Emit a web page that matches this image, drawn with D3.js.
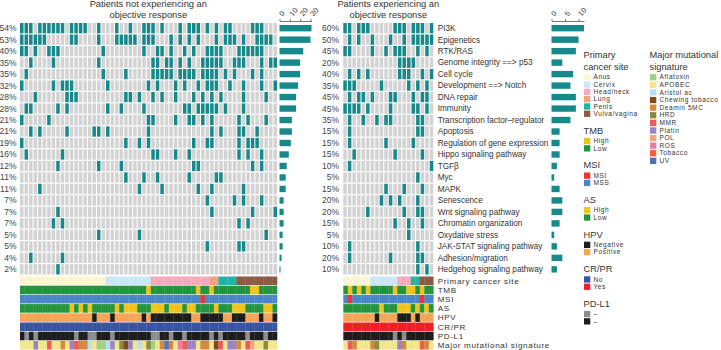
<!DOCTYPE html>
<html>
<head>
<meta charset="utf-8">
<script src="https://cdn.jsdelivr.net/npm/d3@7"></script>
<style>
  body { margin: 0; background: #fff; }
  svg { font-family: "Liberation Sans", Arial, sans-serif; }
</style>
</head>
<body>
<div id="chart"></div>
<script>
// ---- data ----
const pathways = ["PI3K", "Epigenetics", "RTK/RAS", "Genome integrity ==> p53", "Cell cycle",
  "Development ==> Notch", "DNA repair", "Immunity", "Transcription factor\u2013regulator", "Apoptosis",
  "Regulation of gene expression", "Hippo signaling pathway", "TGF\u03b2", "Myc", "MAPK", "Senescence",
  "Wnt signaling pathway", "Chromatin organization", "Oxydative stress", "JAK-STAT signaling pathway",
  "Adhesion/migration", "Hedgehog signaling pathway"];

const pctLeft = [54, 53, 40, 35, 35, 32, 28, 28, 21, 21, 19, 16, 12, 11, 11, 7, 7, 7, 5, 5, 4, 2];
const pctRight = [60, 50, 45, 20, 40, 35, 45, 45, 35, 15, 15, 15, 10, 5, 15, 20, 20, 15, 5, 10, 20, 10];

const nLeft = 57;
const nRight = 20;

// patient columns with an altered pathway, one list per pathway
const hitsLeft = [
  [0,1,2,4,5,6,7,8,9,11,12,13,14,17,21,24,27,28,29,31,35,37,38,39,41,43,45,46,51,52,53],
  [0,1,2,3,4,5,11,12,17,21,22,23,24,25,27,28,29,33,35,37,39,43,45,46,47,49,52,53,54,55],
  [0,1,3,6,7,8,18,27,30,31,33,36,38,41,42,43,44,48,49,50,51,52,53],
  [2,7,17,29,30,32,33,35,37,40,41,42,43,44,47,48,49,53,55,56],
  [1,18,23,29,30,31,32,33,35,36,37,38,40,41,42,43,45,47,51,53],
  [0,7,9,10,11,19,28,30,34,36,39,41,42,43,46,49,53,56],
  [3,10,11,12,23,24,26,29,31,34,38,40,42,44,49,54],
  [1,2,8,10,19,22,27,36,37,39,40,41,42,43,45,49],
  [0,6,28,29,34,37,38,40,42,48,50,54],
  [2,4,10,16,17,19,28,42,44,48,49,52],
  [0,23,26,28,38,41,42,48,50,51,52],
  [1,9,29,30,34,37,48,50,53],
  [8,17,22,38,39,51,53],
  [23,27,30,37,43,44],
  [4,26,31,39,42,49],
  [41,47,49,53],
  [8,42,51,56],
  [7,9,48,50],
  [17,26,54],
  [41,48,49],
  [2,9],
  [8]
];

const hitsRight = [
  [0,1,3,4,5,11,12,13,15,16,17,19],
  [1,3,6,10,13,15,16,17,18,19],
  [0,1,6,9,11,12,13,16,18],
  [12,13,14,15],
  [1,3,5,12,13,14,17,19],
  [0,1,2,8,14,16,18],
  [1,3,4,6,10,11,15,17,18],
  [0,1,2,3,5,10,15,16,18],
  [1,4,7,9,10,16,17],
  [1,16,17],
  [1,9,15],
  [2,11,17],
  [1,19],
  [16],
  [9,13,17],
  [8,10,12,16],
  [5,13,16,17],
  [11,14,17],
  [14],
  [1,16],
  [1,10,16,17],
  [16,18]
];

// annotation tracks
const siteLeft = [["Anus", 19], ["Cervix", 10], ["Head/neck", 13], ["Lung", 2], ["Penis", 4], ["Vulva/vagina", 9]];
const siteRight = [["Anus", 6], ["Cervix", 6], ["Head/neck", 3], ["Penis", 2], ["Vulva/vagina", 3]];
const tmbHighLeft = [28, 39, 42, 51, 52];
const tmbHighRight = [1, 3, 5, 11, 14, 15, 17];
const msiLeft = [40];
const msiRight = [1, 17];
const asHighLeft = [11,13,15,21,23,24,25,29,30,31,33,34,35,37,38,43,47,48,49,54,55];
const asHighRight = [8, 12, 13, 14, 16, 18];
const hpvNegLeft = [16,20,27,29,30,31,32,33,34,35,36,37,40,41,42,43,44,47,48,49,53,56];
const hpvNegRight = [7, 12, 13, 14, 16];
const pdl1GrayLeft = [1,3,12,15,16,20,29,30,33,36,42,44,50,54];
const pdl1GrayRight = [11, 13];
const mutSigLeft = [[3,"Platin"],[6,"MMR"],[9,"Deamin 5MC"],[11,"Platin"],[12,"MMR"],[13,"Deamin 5MC"],[14,"Deamin 5MC"],
  [15,"Aristol ac"],[17,"Aflatoxin"],[18,"Aflatoxin"],[19,"Aristol ac"],[20,"Platin"],[22,"HRD"],[23,"Chewing tobacco"],
  [24,"Platin"],[26,"Aristol ac"],[28,"HRD"],[29,"Aflatoxin"],[31,"Deamin 5MC"],[32,"UV"],[33,"Deamin 5MC"],[35,"ROS"],
  [36,"MMR"],[37,"Platin"],[38,"Platin"],[40,"Deamin 5MC"],[41,"Deamin 5MC"],[43,"Chewing tobacco"],[44,"MMR"],
  [46,"Platin"],[47,"Platin"],[48,"Deamin 5MC"],[50,"MMR"],[51,"POL"],[54,"HRD"]];
const mutSigRight = [[1,"MMR"],[2,"Deamin 5MC"],[6,"Deamin 5MC"],[7,"HRD"],[12,"Platin"],[13,"Deamin 5MC"],[17,"Tobacco"],[18,"Deamin 5MC"]];

const trackNames = ["Primary cancer site", "TMB", "MSI", "AS", "HPV", "CR/PR", "PD-L1", "Major mutational signature"];

const siteCats = ["Anus", "Cervix", "Head/neck", "Lung", "Penis", "Vulva/vagina"];
const mutCats = ["Aflatoxin", "APOBEC", "Aristol ac", "Chewing tobacco", "Deamin 5MC", "HRD", "MMR", "Platin", "POL", "ROS", "Tobacco", "UV"];

// ---- colours ----
const teal = "#17898b";
const cellGray = "#d3d3d3";
const siteColor = { "Anus": "#fcf6cf", "Cervix": "#c9e7f6", "Head/neck": "#f6a9bb", "Lung": "#f59f7c", "Penis": "#22b3a6", "Vulva/vagina": "#8c5a45" };
const levelColor = { "High": "#efc31b", "Low": "#24943f" };
const msiColor = { "MSI": "#ee3431", "MSS": "#4b86c9" };
const hpvColor = { "Negative": "#1d1d1b", "Positive": "#f6a458" };
const crprColor = { "No": "#3853a4", "Yes": "#ec1f25" };
const pdl1Color = { "gray": "#8d8d8d", "black": "#1d1d1b" };
const mutColor = { "Aflatoxin": "#9ed183", "APOBEC": "#f1e68c", "Aristol ac": "#b9e0f1", "Chewing tobacco": "#7e4a20",
  "Deamin 5MC": "#d38a3c", "HRD": "#8b8a45", "MMR": "#ee5a5a", "Platin": "#9a82c4", "POL": "#f6a27b",
  "ROS": "#f07aa0", "Tobacco": "#f0603c", "UV": "#5470b8" };

// ---- helpers ----
const expandRuns = runs => runs.flatMap(([c, k]) => d3.range(k).map(() => c));
const fromIdx = (n, idx, base, alt) => d3.range(n).map(i => idx.includes(i) ? alt : base);
const withPairs = (n, base, pairs) => {
  const a = d3.range(n).map(() => base);
  pairs.forEach(([i, c]) => { a[i] = c; });
  return a;
};

function tracksFor(n, site, tmbH, msi, asH, hpvN, crpr, pdG, mut) {
  return [
    expandRuns(site).map(c => siteColor[c]),
    fromIdx(n, tmbH, "Low", "High").map(c => levelColor[c]),
    fromIdx(n, msi, "MSS", "MSI").map(c => msiColor[c]),
    fromIdx(n, asH, "Low", "High").map(c => levelColor[c]),
    fromIdx(n, hpvN, "Positive", "Negative").map(c => hpvColor[c]),
    d3.range(n).map(() => crprColor[crpr]),
    fromIdx(n, pdG, "black", "gray").map(c => pdl1Color[c]),
    withPairs(n, "APOBEC", mut).map(c => mutColor[c])
  ];
}

const tracksLeft = tracksFor(nLeft, siteLeft, tmbHighLeft, msiLeft, asHighLeft, hpvNegLeft, "No", pdl1GrayLeft, mutSigLeft);
const tracksRight = tracksFor(nRight, siteRight, tmbHighRight, msiRight, asHighRight, hpvNegRight, "Yes", pdl1GrayRight, mutSigRight);

// ---- svg ----
const width = 721, height = 350;
const svg = d3.select("#chart").append("svg")
  .attr("width", width)
  .attr("height", height);

const y = d3.scaleBand().domain(pathways).range([23, 274.5]).paddingInner(0.1);
const yAnn = d3.scaleBand().domain(trackNames).range([276.5, 349.5]).paddingInner(0.07);

function drawPanel(opts) {
  const x = d3.scaleBand().domain(d3.range(opts.n)).range(opts.xRange).paddingInner(0.22);
  const xa = d3.scaleBand().domain(d3.range(opts.n)).range(opts.xRange);
  const g = svg.append("g");

  // background cells, teal where the pathway is altered
  pathways.forEach((p, r) => {
    g.append("g").selectAll("rect")
      .data(d3.range(opts.n))
      .join("rect")
      .attr("x", i => x(i))
      .attr("y", y(p))
      .attr("width", x.bandwidth())
      .attr("height", y.bandwidth())
      .attr("fill", i => opts.hits[r].includes(i) ? teal : cellGray);
  });

  // percentages
  g.selectAll(".pct")
    .data(pathways)
    .join("text")
    .attr("class", "pct")
    .attr("x", opts.pctX)
    .attr("y", d => y(d) + y.bandwidth() / 2)
    .attr("dy", "0.35em")
    .attr("text-anchor", "end")
    .attr("font-size", "8.5px")
    .attr("fill", "#444")
    .text((d, i) => opts.pct[i] + "%");

  // annotation tracks
  trackNames.forEach((t, k) => {
    g.append("g").selectAll("rect")
      .data(opts.tracks[k])
      .join("rect")
      .attr("x", (c, i) => xa(i))
      .attr("y", yAnn(t))
      .attr("width", xa.bandwidth() + 0.3)
      .attr("height", yAnn.bandwidth())
      .attr("fill", c => c);
  });

  // title
  const cx = (opts.xRange[0] + opts.xRange[1]) / 2 + opts.titleShift;
  g.append("text")
    .attr("x", cx).attr("y", 7.4)
    .attr("text-anchor", "middle")
    .attr("font-size", "9.3px").attr("fill", "#333")
    .selectAll("tspan")
    .data(opts.title)
    .join("tspan")
    .attr("x", cx)
    .attr("dy", (d, i) => i ? 10.4 : 0)
    .text(d => d);

  // bar chart of altered counts
  const counts = opts.hits.map(h => h.length);
  const xb = d3.scaleLinear().domain([0, d3.max(counts)]).range(opts.barRange);
  const barH = y.bandwidth() * 0.62;
  g.selectAll(".bar")
    .data(pathways)
    .join("rect")
    .attr("class", "bar")
    .attr("x", xb(0))
    .attr("y", d => y(d) + (y.bandwidth() - barH) / 2)
    .attr("width", (d, i) => xb(counts[i]) - xb(0))
    .attr("height", barH)
    .attr("fill", teal);

  const ax = g.append("g")
    .attr("transform", "translate(0,21)")
    .call(d3.axisTop(xb).tickValues(opts.ticks).tickSize(2).tickSizeOuter(0));
  ax.select(".domain").attr("stroke", "#555").attr("stroke-width", 0.8);
  ax.selectAll(".tick line").attr("stroke", "#555").attr("stroke-width", 0.8);
  ax.selectAll(".tick text")
    .attr("x", 0).attr("y", 0).attr("dy", "0.35em")
    .attr("transform", "translate(0.5,-6) rotate(-50)")
    .attr("text-anchor", "start")
    .attr("font-size", "7.5px")
    .attr("fill", "#444");
}

drawPanel({
  n: nLeft, xRange: [20, 277], hits: hitsLeft, pct: pctLeft, pctX: 16.5,
  tracks: tracksLeft, title: ["Patients not experiencing an", "objective response"], titleShift: -0.2,
  barRange: [279.5, 311.5], ticks: [0, 10, 20, 30]
});
drawPanel({
  n: nRight, xRange: [343.3, 433.3], hits: hitsRight, pct: pctRight, pctX: 339,
  tracks: tracksRight, title: ["Patients experiencing an", "objective response"], titleShift: 0,
  barRange: [551.5, 584], ticks: [0, 5, 10]
});

// row labels
svg.append("g").selectAll("text")
  .data(pathways)
  .join("text")
  .attr("x", 437.7)
  .attr("y", d => y(d) + y.bandwidth() / 2)
  .attr("dy", "0.35em")
  .attr("font-size", "8.2px")
  .attr("fill", "#333")
  .text(d => d);

svg.append("g").selectAll("text")
  .data(trackNames)
  .join("text")
  .attr("x", 437.7)
  .attr("y", d => yAnn(d) + yAnn.bandwidth() / 2)
  .attr("dy", "0.35em")
  .attr("font-size", "8.1px")
  .attr("letter-spacing", "0.65px")
  .attr("fill", "#333")
  .text(d => d);

// ---- legends ----
const legendLeft = [
  { head: ["Primary", "cancer site"], items: siteCats.map(c => [c, siteColor[c]]) },
  { head: ["TMB"], items: [["High", levelColor.High], ["Low", levelColor.Low]] },
  { head: ["MSI"], items: [["MSI", msiColor.MSI], ["MSS", msiColor.MSS]] },
  { head: ["AS"], items: [["High", levelColor.High], ["Low", levelColor.Low]] },
  { head: ["HPV"], items: [["Negative", hpvColor.Negative], ["Positive", hpvColor.Positive]] },
  { head: ["CR/PR"], items: [["No", crprColor.No], ["Yes", crprColor.Yes]] },
  { head: ["PD-L1"], items: [["\u2013", pdl1Color.gray], ["\u2013", pdl1Color.black]] }
];
const legendMut = [
  { head: ["Major mutational", "signature"], items: mutCats.map(c => [c, mutColor[c]]) }
];

function drawLegend(groups, x0, step) {
  const g = svg.append("g");
  let yy = 55;
  groups.forEach(grp => {
    grp.head.forEach((h, i) => {
      g.append("text")
        .attr("x", x0).attr("y", yy + i * 11.7).attr("dy", "0.35em")
        .attr("font-size", "9.3px").attr("fill", "#333")
        .text(h);
    });
    yy += (grp.head.length - 1) * 11.7 + 10.5;
    grp.items.forEach(([label, col]) => {
      g.append("rect")
        .attr("x", x0 + 0.5).attr("y", yy - 3.1)
        .attr("width", 6.3).attr("height", 6.3)
        .attr("fill", col);
      g.append("text")
        .attr("x", x0 + 10).attr("y", yy).attr("dy", "0.35em")
        .attr("font-size", "6.5px").attr("letter-spacing", "0.6px")
        .attr("fill", "#333")
        .text(label);
      yy += step;
    });
    yy += 16.8 - step;
  });
}

drawLegend(legendLeft, 583.5, 7.3);
drawLegend(legendMut, 649.5, 7.6);
</script>
</body>
</html>
